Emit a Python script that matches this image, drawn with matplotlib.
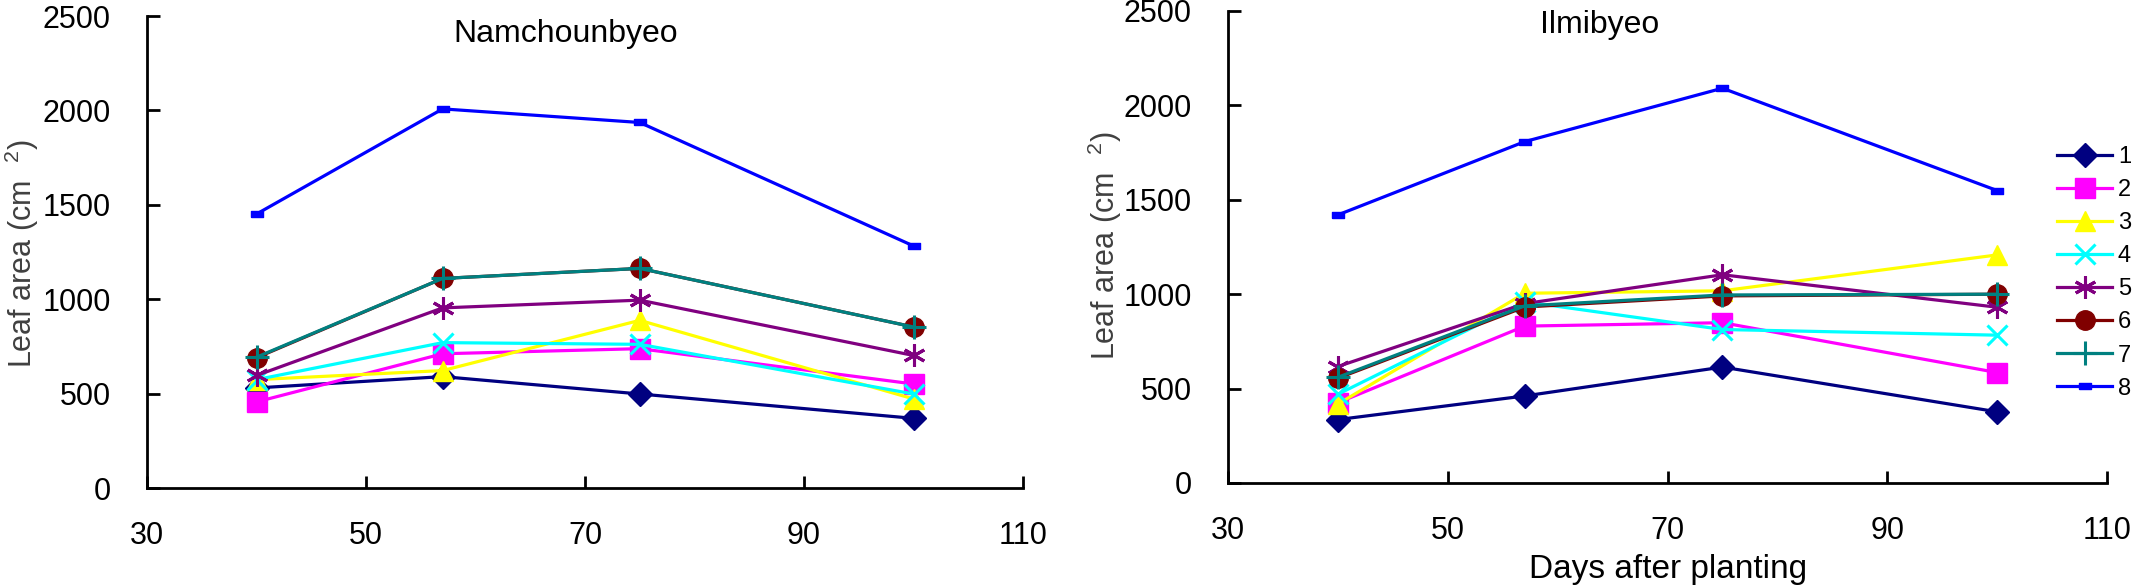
import numpy as np
import matplotlib
matplotlib.use('Agg')
import matplotlib.pyplot as plt

plt.rcParams['font.family'] = ['Liberation Sans', 'DejaVu Sans']
plt.rcParams['mathtext.default'] = 'regular'

# days after planting
days = [40, 57, 75, 100]
labels = ['1', '2', '3', '4', '5', '6', '7', '8']

# leaf area (cm2), Namchounbyeo
nam_1 = [530, 590, 498, 369]
nam_2 = [456, 711, 738, 551]
nam_3 = [574, 622, 888, 472]
nam_4 = [574, 770, 761, 498]
nam_5 = [596, 954, 995, 702]
nam_6 = [690, 1110, 1163, 853]
nam_7 = [693, 1110, 1163, 853]
nam_8 = [1451, 2008, 1936, 1282]

# leaf area (cm2), Ilmibyeo
ilm_1 = [336, 461, 614, 377]
ilm_2 = [425, 831, 849, 585]
ilm_3 = [418, 1005, 1018, 1208]
ilm_4 = [470, 960, 813, 783]
ilm_5 = [617, 950, 1103, 931]
ilm_6 = [555, 932, 991, 1000]
ilm_7 = [560, 938, 996, 1000]
ilm_8 = [1420, 1808, 2091, 1549]

# small flat rectangle used for series 8
rect = [(-1.2, -0.5), (1.2, -0.5), (1.2, 0.5), (-1.2, 0.5), (-1.2, -0.5)]

colors = ['#000080', '#ff00ff', '#ffff00', '#00ffff', '#800080', '#800000', '#008080', '#0000ff']
markers = ['D', 's', '^', 'x', (6, 2, 0), 'o', '+', rect]
msizes = [12, 14, 15, 15, 16, 14, 17, 9]

fig = plt.figure(figsize=(21.36, 5.85), dpi=100)
ax1 = fig.add_axes([147/2136, 1 - 488/585, 876/2136, 472/585])
ax2 = fig.add_axes([1228/2136, 1 - 483/585, 879/2136, 472/585])


def draw(ax, series):
    for i, vals in enumerate(series):
        ax.plot(days, vals, color=colors[i], marker=markers[i], markersize=msizes[i],
                markeredgewidth=2.2 if i in (3, 4, 6) else 1, lw=2.3, label=labels[i])
    ax.set_xlim(30, 110)
    ax.set_ylim(0, 2500)
    ax.set_xticks([30, 50, 70, 90, 110])
    ax.set_yticks([0, 500, 1000, 1500, 2000, 2500])
    ax.spines['top'].set_visible(False)
    ax.spines['right'].set_visible(False)
    ax.spines['left'].set_linewidth(2)
    ax.spines['bottom'].set_linewidth(2)
    ax.tick_params(direction='in', length=9, width=2, labelsize=22)
    ax.tick_params(axis='x', pad=24)
    ax.tick_params(axis='y', pad=26)


draw(ax1, [nam_1, nam_2, nam_3, nam_4, nam_5, nam_6, nam_7, nam_8])
draw(ax2, [ilm_1, ilm_2, ilm_3, ilm_4, ilm_5, ilm_6, ilm_7, ilm_8])

ax1.text(0.478, 0.945, 'Namchounbyeo', transform=ax1.transAxes, ha='center', va='baseline', fontsize=23)
ax2.text(0.423, 0.953, 'Ilmibyeo', transform=ax2.transAxes, ha='center', va='baseline', fontsize=23)

fig.text(22/2136, 1 - 254/585, 'Leaf area (cm  $^{2}$)', rotation=90, ha='center', va='center',
         fontsize=22, color='#404040')
fig.text(1105/2136, 1 - 246/585, 'Leaf area (cm  $^{2}$)', rotation=90, ha='center', va='center',
         fontsize=22, color='#404040')
fig.text(1668/2136, 1 - 578/585, 'Days after planting', ha='center', va='baseline', fontsize=24)

h, l = ax2.get_legend_handles_labels()
fig.legend(h, l, loc='upper left', bbox_to_anchor=(2057/2136, 1 - 146/585), frameon=False,
           fontsize=17, borderpad=0, borderaxespad=0, handlelength=2.33, handletextpad=0.25,
           labelspacing=0.47)

fig.savefig('out.png', dpi=100)
